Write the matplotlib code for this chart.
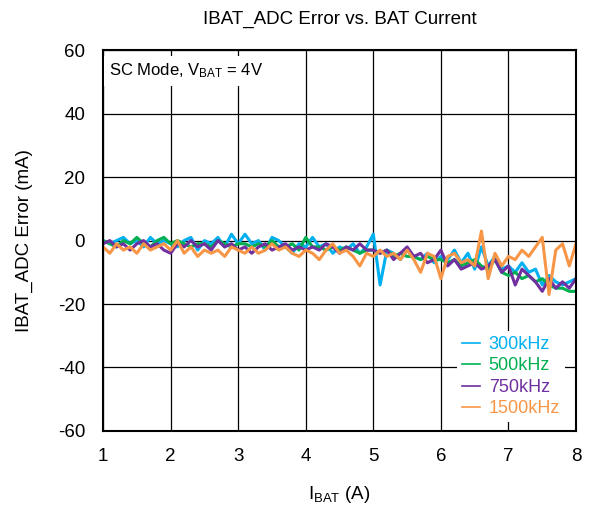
import numpy as np
import matplotlib.pyplot as plt

plt.rcParams['font.family'] = ['Liberation Sans', 'DejaVu Sans']
plt.rcParams['mathtext.fontset'] = 'custom'
plt.rcParams['mathtext.rm'] = 'Liberation Sans'
plt.rcParams['mathtext.it'] = 'Liberation Sans'
plt.rcParams['axes.unicode_minus'] = False

# battery current (A)
ibat = np.round(np.arange(1.0, 8.01, 0.1), 1)

# ADC error (mA)
err_300k = [0, -1, 0, 1, -1, 0, -2, 1, -1, 0,
            -1, -2, 0, 1, -3, 0, -1, 1, -2, 2,
            -1, 2, -1, 0, -3, 1, 0, -2, -4, -1,
            -2, 1, -2, -1, -4, -2, -3, -1, -4, -2,
            2, -14, -3, -4, -6, -3, -5, -6, -4, -7,
            -5, -6, -3, -7, -4, -9, -2, -8, -5, -9,
            -8, -10, -7, -10, -9, -14, -11, -13, -14, -13,
            -12]
err_500k = [0, -1, -2, 0, -1, 1, -1, -2, 0, 1,
            -1, 0, -1, -2, -1, -1, -2, 0, -1, -2,
            -1, -1, -2, -1, -2, 0, -2, -2, -1, -3,
            1, -2, -2, -3, -2, -3, -2, -3, -4, -3,
            -3, -4, -3, -5, -4, -5, -5, -6, -5, -6,
            -6, -7, -6, -8, -7, -6, -8, -9, -6, -10,
            -11, -10, -12, -11, -13, -12, -14, -15, -15, -16,
            -16]
err_750k = [-1, 0, -2, -1, -3, -1, 0, -2, -1, -3,
            -4, -1, -2, 0, -2, -1, -3, 0, -2, -1,
            -3, -2, -4, -2, -1, -3, -2, -1, -3, -2,
            -3, -2, -3, -1, -2, -4, -2, -3, -1, -3,
            -3, -4, -3, -6, -4, -2, -5, -4, -7, -6,
            -3, -8, -6, -9, -8, -7, -9, -8, -6, -10,
            -8, -14, -9, -11, -13, -16, -12, -15, -13, -15,
            -12]
err_1500k = [-2, -4, -1, -3, -2, -4, -1, -3, -2, -1,
             -3, 0, -4, -2, -5, -3, -4, -3, -5, -2,
             -3, -4, -2, -4, -3, -1, -3, -2, -4, -5,
             -3, -4, -6, -3, -1, -4, -3, -5, -8, -4,
             -5, -3, -5, -4, -6, -3, -6, -10, -4, -5,
             -12, -5, -4, -7, -6, -8, 3, -12, -4, -8,
             -5, -6, -3, -5, -2, 1, -17, -3, -1, -8,
             -1]

labels = ['300kHz', '500kHz', '750kHz', '1500kHz']
colors = ['#00B0F0', '#00B050', '#7030A0', '#F79646']

fig = plt.figure(figsize=(5.89, 5.07), dpi=100)
ax = fig.add_axes([0.175, 0.150, 0.803, 0.751])

for ys, lab, c in zip([err_300k, err_500k, err_750k, err_1500k], labels, colors):
    ax.plot(ibat, ys, color=c, lw=2.2, label=lab)

ax.set_xlim(1, 8)
ax.set_ylim(-60, 60)
ax.set_xticks(range(1, 9))
ax.set_yticks(range(-60, 61, 20))
ax.grid(True, color='black', lw=0.9)
ax.set_axisbelow(True)
ax.tick_params(length=0, labelsize=13.5)
ax.tick_params(axis='x', pad=12)
ax.tick_params(axis='y', pad=13)
for s in ax.spines.values():
    s.set_linewidth(1.5)

ax.set_title('IBAT_ADC Error vs. BAT Current', fontsize=13.5, pad=19)
ax.set_xlabel('I$_{\\mathregular{BAT}}$ (A)', fontsize=13.5, labelpad=14)
ax.set_ylabel('IBAT_ADC Error (mA)', fontsize=13.5, labelpad=18)

ax.text(0.013, 0.97, 'SC Mode, V$_{\\mathregular{BAT}}$ = 4V', transform=ax.transAxes,
        fontsize=12, va='top', ha='left',
        bbox=dict(facecolor='white', edgecolor='none', pad=4))

leg = ax.legend(loc='lower right', bbox_to_anchor=(0.995, 0.0), fontsize=13,
                frameon=True, fancybox=False, edgecolor='none', framealpha=1,
                handlelength=1.0, handletextpad=0.5, labelspacing=0.25,
                borderpad=0.25)
for t, c in zip(leg.get_texts(), colors):
    t.set_color(c)
for h in leg.get_lines():
    h.set_linewidth(1.2)

fig.savefig('out.png', dpi=100)
